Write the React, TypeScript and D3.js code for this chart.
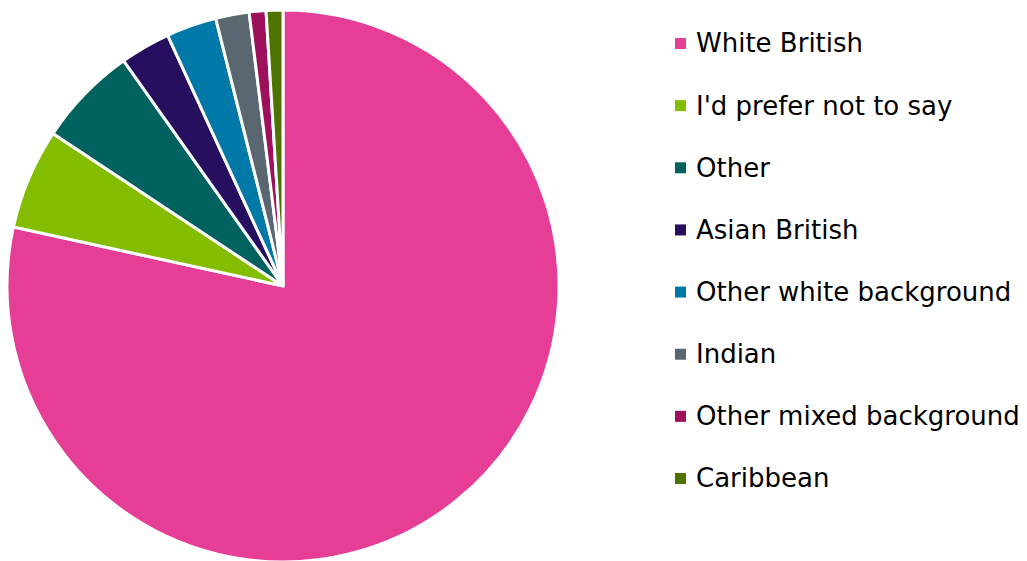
import React from "react";
import * as d3 from "d3";

const categories = [
  "White British",
  "I'd prefer not to say",
  "Other",
  "Asian British",
  "Other white background",
  "Indian",
  "Other mixed background",
  "Caribbean",
];
const values = [80, 6, 6, 3, 3, 2, 1, 1];
const colors = [
  "#E63E97",
  "#84BD00",
  "#00625F",
  "#260F5F",
  "#0079A8",
  "#5A6670",
  "#9C1159",
  "#4E7300",
];

const W = 1027;
const H = 561;
const cx = 283;
const cy = 286;
const R = 276;

export default function App() {
  const data = categories.map((c, i) => ({ c, v: values[i], col: colors[i] }));
  const pie = d3.pie<any>().sort(null).value((d) => d.v);
  const arc = d3.arc<any>().innerRadius(0).outerRadius(R);
  const arcs = pie(data);
  const legendY = d3
    .scalePoint<string>()
    .domain(categories)
    .range([43, 478]);
  return (
    <svg
      width={W}
      height={H}
      style={{ position: "absolute", left: 0, top: 0, background: "#fff" }}
    >
      <g transform={`translate(${cx},${cy})`}>
        {arcs.map((a, i) => (
          <path
            key={i}
            d={arc(a) || ""}
            fill={a.data.col}
            stroke="#fff"
            strokeWidth={3}
            strokeLinejoin="miter"
          />
        ))}
      </g>
      <g>
        {categories.map((c, i) => {
          const y = legendY(c)!;
          return (
            <g key={c}>
              <rect x={675} y={y - 5} width={11} height={11} fill={colors[i]} />
              <text
                x={696}
                y={y}
                dy="0.36em"
                fontFamily="DejaVu Sans"
                fontSize={26}
                fill="#000"
              >
                {c}
              </text>
            </g>
          );
        })}
      </g>
    </svg>
  );
}
